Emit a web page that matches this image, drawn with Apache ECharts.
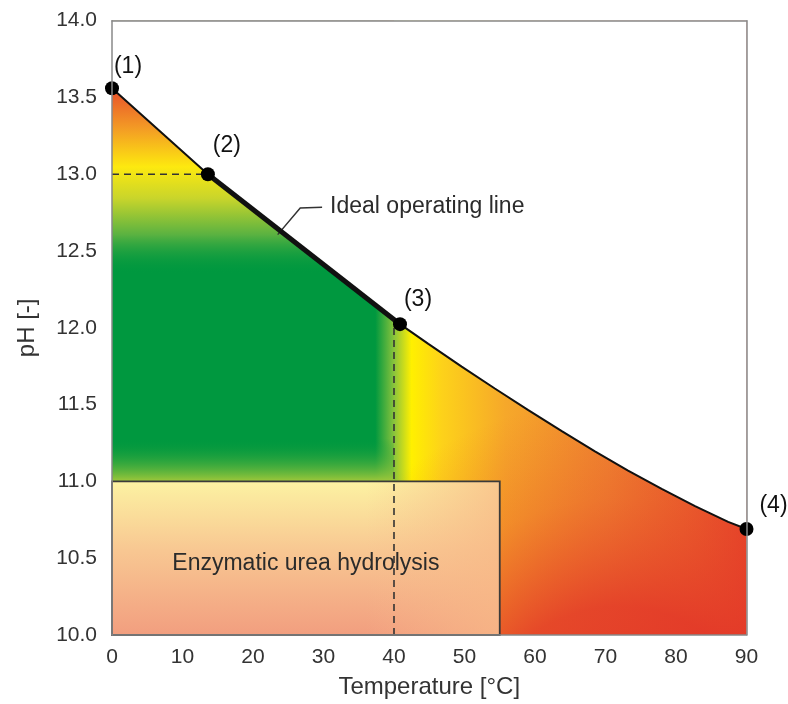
<!DOCTYPE html>
<html>
<head>
<meta charset="utf-8">
<title>Risk of urea loss</title>
<script src="https://cdn.jsdelivr.net/npm/echarts@6/dist/echarts.min.js"></script>
<style>
  html, body { margin: 0; padding: 0; background: #fff; }
  #chart { width: 788px; height: 704px; }
</style>
</head>
<body>
<div id="chart"></div>
<script>
// boundary line, temperature [°C] -> pH
const curveT  = [0, 13.6, 40.85, 44.87, 49.6, 54.3, 59.05, 63.8, 68.5, 73.2, 77.97, 82.7, 87.4, 90];
const curvePH = [13.56, 13.0, 12.024, 11.896, 11.748, 11.605, 11.464, 11.327, 11.196, 11.071, 10.951, 10.839, 10.737, 10.69];

// ideal operating line, between points (2) and (3)
const idealT  = [13.6, 40.85];
const idealPH = [13.0, 12.024];

// numbered points
const pointT      = [0, 13.6, 40.85, 90];
const pointPH     = [13.56, 13.0, 12.024, 10.69];
const pointLabels = ['(1)', '(2)', '(3)', '(4)'];

// dashed guides
const guideHT  = [0, 13.6];
const guideHPH = [13.0, 13.0];
const guideVT  = [40, 40];
const guideVPH = [10, 12.05];

// enzymatic hydrolysis zone
const enzymeT  = [0, 55];
const enzymePH = [10, 11];

// leader to the "Ideal operating line" label
const leaderT  = [23.5, 26.7, 29.8];
const leaderPH = [12.607, 12.78, 12.786];

const FONT = "'Liberation Sans', Arial, sans-serif";
const LG = echarts.graphic.LinearGradient;
const RG = echarts.graphic.RadialGradient;

const zip = (xs, ys) => xs.map((x, i) => [x, ys[i]]);
const stops = arr => arr.map(([o, c]) => ({ offset: o, color: c }));

function box(api, t0, t1, p0, p1) {
  const a = api.coord([t0, p1]);
  const b = api.coord([t1, p0]);
  return { x: a[0], y: a[1], width: b[0] - a[0], height: b[1] - a[1] };
}

function renderRisk(params, api) {
  const kids = [];
  const x0 = api.coord([0, 10])[0], x90 = api.coord([90, 10])[0];
  // base risk gradient along temperature
  kids.push({
    type: 'rect', shape: box(api, 0, 90, 10, 14),
    style: { fill: new LG(x0, 0, x90, 0, stops([
      [0, '#00983f'], [0.415, '#00983f'], [0.445, '#8cc43c'], [0.472, '#fff000'],
      [0.52, '#fdd21a'], [0.62, '#f6a82a'], [0.78, '#ef8530'], [0.9, '#ea622d'], [1, '#e5412a']
    ]), true) }
  });
  // lower right gets redder
  const rc = api.coord([72, 9.2]);
  kids.push({
    type: 'rect', shape: box(api, 40, 90, 10, 12.5),
    style: { fill: new RG(rc[0], rc[1], 360, stops([
      [0, 'rgba(226,50,40,0.9)'], [0.42, 'rgba(226,52,40,0.8)'],
      [0.72, 'rgba(230,70,40,0.28)'], [1, 'rgba(230,80,40,0)']
    ]), true) }
  });
  // high pH at low temperature
  kids.push({
    type: 'rect', shape: box(api, 0, 40, 12.3, 14),
    style: { fill: new LG(0, 0, 0, 1, stops([
      [0, '#e8502b'], [0.262, '#e8502b'], [0.41, '#f39a25'], [0.56, '#fde90f'],
      [0.68, '#c9d52b'], [0.82, '#5ab241'], [0.97, 'rgba(0,152,63,0)'], [1, 'rgba(0,152,63,0)']
    ])) }
  });
  // green fades out towards pH 11
  kids.push({
    type: 'rect', shape: box(api, 0, 40, 11.0, 11.28),
    style: { fill: new LG(0, 0, 0, 1, stops([
      [0, 'rgba(0,152,63,0)'], [1, 'rgba(160,200,58,1)']
    ])) }
  });
  // enzymatic zone
  const ez = box(api, enzymeT[0], enzymeT[1], enzymePH[0], enzymePH[1]);
  kids.push({
    type: 'rect', shape: ez,
    style: { fill: new LG(0, 0, 0, 1, stops([
      [0, '#fcf2a2'], [0.45, '#f8c792'], [1, '#f29e7f']
    ])) }
  });
  kids.push({
    type: 'rect', shape: box(api, 36, enzymeT[1], enzymePH[0], enzymePH[1]),
    style: { fill: new LG(0, 0, 1, 0, stops([
      [0, 'rgba(248,190,140,0)'], [1, 'rgba(248,185,135,0.75)']
    ])) }
  });
  // white above the boundary line
  const maskPts = zip(curveT, curvePH).map(p => api.coord(p));
  maskPts.push(api.coord([90, 14]), api.coord([0, 14]));
  kids.push({ type: 'polygon', shape: { points: maskPts }, style: { fill: '#fff' } });
  // enzymatic zone frame and text
  kids.push({ type: 'rect', shape: ez, style: { fill: 'none', stroke: '#3a3a3a', lineWidth: 1.8 } });
  const c = api.coord([(enzymeT[0] + enzymeT[1]) / 2, 10.465]);
  kids.push({
    type: 'text',
    style: { text: 'Enzymatic urea hydrolysis', x: c[0], y: c[1], align: 'center', verticalAlign: 'middle',
      fill: '#2b2b2b', font: '23px ' + FONT }
  });
  // leader + label
  const lp = zip(leaderT, leaderPH).map(p => api.coord(p));
  kids.push({ type: 'polyline', shape: { points: lp }, style: { stroke: '#333', lineWidth: 1.5, fill: 'none' } });
  const last = lp[lp.length - 1];
  kids.push({
    type: 'text',
    style: { text: 'Ideal operating line', x: last[0] + 8, y: last[1], align: 'left', verticalAlign: 'middle',
      fill: '#2b2b2b', font: '23px ' + FONT }
  });
  return { type: 'group', children: kids };
}

const labelOffsets = [[16, 1.5], [19, -5.5], [18, -1.5], [27, 0.5]];

const chart = echarts.init(document.getElementById('chart'), null, { renderer: 'canvas' });

const axisLabelStyle = { color: '#333', fontSize: 21, fontFamily: FONT };
const frameLine = { show: true, onZero: false, lineStyle: { color: '#888', width: 1.5 } };

chart.setOption({
  animation: false,
  backgroundColor: '#fff',
  grid: { left: 112, right: 41.5, top: 20.7, bottom: 67.3 },
  xAxis: [{
    type: 'value', min: 0, max: 90, interval: 10, z: 6,
    name: 'Temperature [°C]', nameLocation: 'middle', nameGap: 40,
    nameTextStyle: { color: '#333', fontSize: 24, fontFamily: FONT },
    axisLine: frameLine,
    axisTick: { show: false },
    splitLine: { show: false },
    axisLabel: Object.assign({ margin: 12 }, axisLabelStyle)
  }, {
    type: 'value', position: 'top', min: 0, max: 90, z: 6,
    axisLine: frameLine,
    axisTick: { show: false }, axisLabel: { show: false }, splitLine: { show: false }
  }],
  yAxis: [{
    type: 'value', min: 10, max: 14, interval: 0.5, z: 6,
    name: 'pH [-]', nameLocation: 'middle', nameGap: 73,
    nameTextStyle: { color: '#333', fontSize: 24, fontFamily: FONT },
    axisLine: frameLine,
    axisTick: { show: false },
    splitLine: { show: false },
    axisLabel: Object.assign({ margin: 15, formatter: v => v.toFixed(1) }, axisLabelStyle)
  }, {
    type: 'value', position: 'right', min: 10, max: 14, z: 6,
    axisLine: frameLine,
    axisTick: { show: false }, axisLabel: { show: false }, splitLine: { show: false }
  }],
  graphic: [
    { type: 'text', left: 482, top: 50,
      style: { text: 'Risk of urea loss', fill: '#2b2b2b', font: '23px ' + FONT } },
    { type: 'rect', left: 445, top: 79, shape: { width: 247, height: 26 },
      style: { fill: new LG(0, 0, 1, 0, stops([
        [0, '#009a44'], [0.12, '#6cb83a'], [0.33, '#fff000'], [0.55, '#f7a92a'],
        [0.72, '#ef8a30'], [1, '#e63c2a']
      ])) } },
    { type: 'text', left: 429, top: 115, style: { text: 'low', fill: '#2b2b2b', font: '22px ' + FONT } },
    { type: 'text', left: 670, top: 115, style: { text: 'high', fill: '#2b2b2b', font: '22px ' + FONT } }
  ],
  series: [
    {
      type: 'custom', z: 1, silent: true,
      renderItem: renderRisk,
      data: [[0, 10]]
    },
    {
      type: 'line', z: 3, symbol: 'none', silent: true,
      data: zip(guideHT, guideHPH),
      lineStyle: { color: '#333', width: 1.6, type: [7, 5] }
    },
    {
      type: 'line', z: 3, symbol: 'none', silent: true,
      data: zip(guideVT, guideVPH),
      lineStyle: { color: '#333', width: 1.6, type: [7, 5] }
    },
    {
      type: 'line', z: 4, symbol: 'none', silent: true,
      data: zip(curveT, curvePH),
      lineStyle: { color: '#111', width: 2 }
    },
    {
      type: 'line', z: 4, symbol: 'none', silent: true,
      data: zip(idealT, idealPH),
      lineStyle: { color: '#111', width: 5 }
    },
    {
      type: 'scatter', z: 5, symbolSize: 14, silent: true,
      itemStyle: { color: '#000', opacity: 1 },
      data: pointT.map((t, i) => ({
        value: [t, pointPH[i]],
        label: {
          show: true, position: 'top', offset: labelOffsets[i],
          formatter: pointLabels[i], color: '#111', fontSize: 23, fontFamily: FONT
        }
      }))
    }
  ]
});
</script>
</body>
</html>
